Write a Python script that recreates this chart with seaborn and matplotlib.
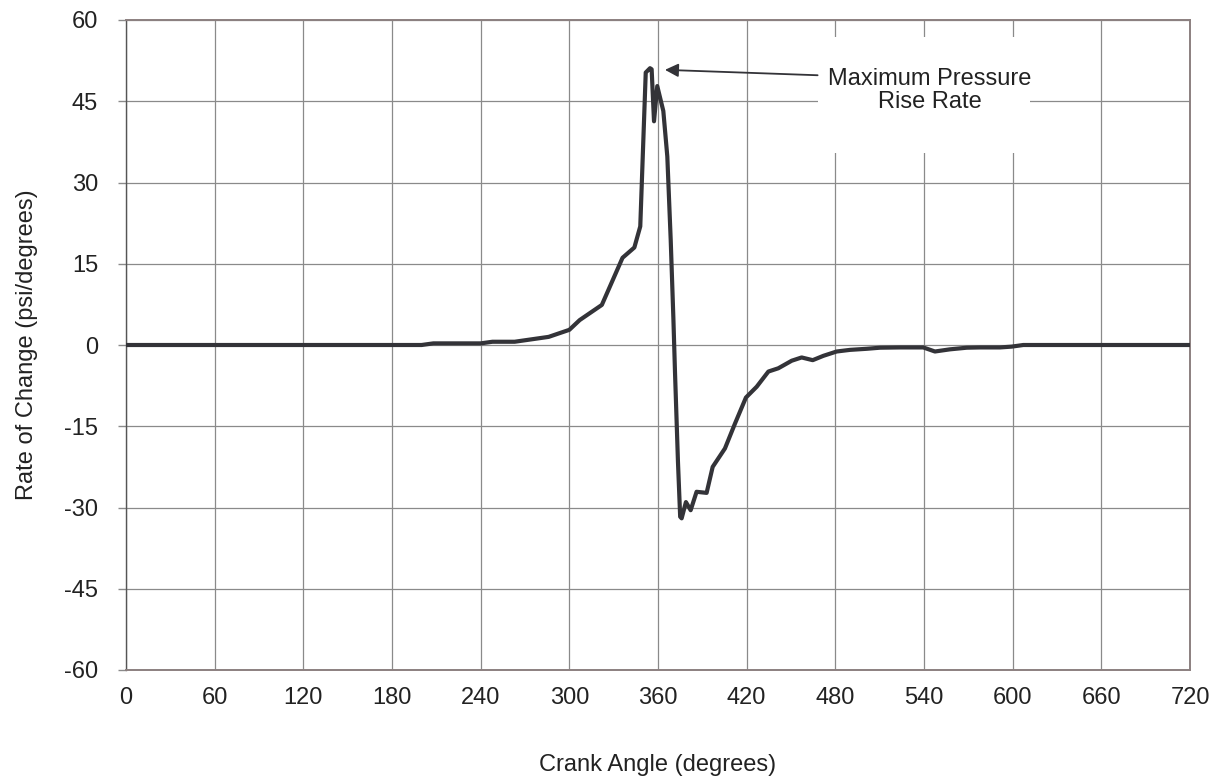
import matplotlib
matplotlib.use("Agg")
import matplotlib.pyplot as plt
import seaborn as sns
import pandas as pd
from matplotlib.patches import Rectangle

# ---- data ----
crank_angle = [0, 60, 120, 180, 200, 208, 240, 248, 263, 286, 300, 307, 322,
               336, 344, 348, 351.7, 354.6, 355.7, 357.3, 359.5, 363.6, 366.3,
               368.6, 370.4, 371.5, 373.5, 375.0, 376.0, 378.9, 382.1, 386.1,
               392.9, 397.0, 405.3, 412.1, 419.5, 426.8, 434.7, 441.4, 450.5,
               457.2, 464.7, 471.9, 480.9, 489.9, 501.2, 510.2, 523.8, 539.5,
               547.4, 557.6, 568.9, 577.9, 591.4, 599.3, 607.2, 660, 720]
rate_of_change = [0, 0, 0, 0, 0, 0.3, 0.3, 0.6, 0.6, 1.5, 2.8, 4.6, 7.4,
                  16.1, 18.0, 21.9, 50.3, 51.1, 50.9, 41.3, 47.8, 43.2, 34.8,
                  19.4, 5.0, -5.0, -21.5, -31.7, -32.0, -29.0, -30.5, -27.1,
                  -27.3, -22.5, -19.1, -14.5, -9.7, -7.7, -4.9, -4.3, -2.9,
                  -2.3, -2.8, -2.0, -1.2, -0.9, -0.7, -0.5, -0.45, -0.45,
                  -1.2, -0.8, -0.5, -0.45, -0.45, -0.3, 0, 0, 0]
x_ticks = [0, 60, 120, 180, 240, 300, 360, 420, 480, 540, 600, 660, 720]
y_ticks = [-60, -45, -30, -15, 0, 15, 30, 45, 60]
annotation_text = "Maximum Pressure\nRise Rate"
annotation_point = (364.7, 50.8)

df = pd.DataFrame({"Crank Angle (degrees)": crank_angle,
                   "Rate of Change (psi/degrees)": rate_of_change})

sns.set_theme(style="white")
plt.rcParams["font.family"] = ["Liberation Sans", "DejaVu Sans"]

FS = 17

fig = plt.figure(figsize=(12.16, 7.77), dpi=100)
ax = fig.add_axes([126 / 1216, 1 - 670 / 777, (1190 - 126) / 1216, (670 - 20) / 777])

sns.lineplot(data=df, x="Crank Angle (degrees)", y="Rate of Change (psi/degrees)",
             estimator=None, sort=False, color="#333338", linewidth=3, ax=ax, zorder=3)

ax.set_xlim(0, 720)
ax.set_ylim(-60, 60)
ax.set_xticks(x_ticks)
ax.set_yticks(y_ticks)
ax.set_xticklabels([str(v) for v in x_ticks])
ax.set_yticklabels([str(v) for v in y_ticks])
ax.set_axisbelow(True)
ax.grid(True, color="#8a8a8a", linewidth=0.9)

for side in ["top", "right", "bottom"]:
    ax.spines[side].set_color("#8c8080")
    ax.spines[side].set_linewidth(1.4)
ax.spines["left"].set_color("#555555")
ax.spines["left"].set_linewidth(1.0)

ax.tick_params(axis="x", length=0, pad=12, labelsize=FS, colors="#222222")
ax.tick_params(axis="y", length=6, width=1, color="#8a8a8a", pad=14, labelsize=FS,
               labelcolor="#222222", left=True)

ax.set_xlabel("Crank Angle (degrees)", fontsize=FS, color="#222222", labelpad=33)
ax.set_ylabel("Rate of Change (psi/degrees)", fontsize=FS, color="#222222", labelpad=19)

# white backdrop behind annotation text
ax.add_patch(Rectangle((468.3, 35.5), 143.4, 21.3, facecolor="white",
                       edgecolor="none", zorder=1.5))
ax.text(544, 47.0, annotation_text, ha="center", va="center", fontsize=FS,
        color="#222222", linespacing=1.07, zorder=4)
ax.annotate("", xy=annotation_point, xytext=(468.0, 49.8),
            arrowprops=dict(arrowstyle="-|>", color="#333338", lw=1.3,
                            mutation_scale=20, shrinkA=0, shrinkB=0), zorder=4)

fig.savefig("out.png", dpi=100)
